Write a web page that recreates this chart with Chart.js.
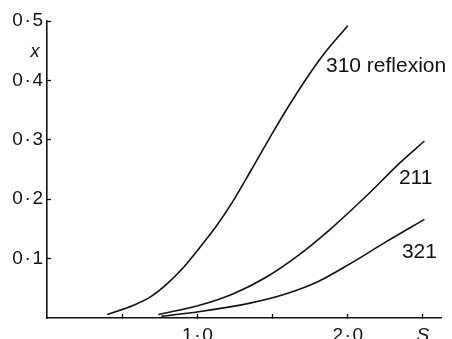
<!doctype html>
<html lang="en">
  <head>
    <meta charset="UTF-8" />
    <title>Reflexion curves</title>
    <script src="https://cdn.jsdelivr.net/npm/chart.js"></script>
    <style>
      html, body { margin: 0; padding: 0; background: #fff; }
      .chart-container { position: relative; width: 452px; height: 339px; }
    </style>
  </head>
  <body>
    <div class="chart-container">
      <canvas id="reflexionChart"></canvas>
    </div>

    <script>
      // Curve data (S along the bottom, x up the side)
      const s310 = [0.40, 0.58, 0.69, 0.80, 0.91, 1.02, 1.13, 1.24, 1.36, 1.51, 1.62, 1.73, 1.84, 2.00];
      const x310 = [0.006, 0.022, 0.036, 0.058, 0.086, 0.120, 0.156, 0.198, 0.250, 0.316, 0.362, 0.405, 0.444, 0.492];

      const s211 = [0.74, 1.02, 1.24, 1.46, 1.68, 1.90, 2.13, 2.35, 2.51];
      const x211 = [0.006, 0.022, 0.041, 0.069, 0.107, 0.153, 0.207, 0.262, 0.298];

      const s321 = [0.76, 1.02, 1.35, 1.57, 1.80, 2.02, 2.24, 2.51];
      const x321 = [0.003, 0.011, 0.025, 0.039, 0.061, 0.092, 0.126, 0.166];

      const sTicks = [0.5, 1.0, 1.5, 2.0, 2.5];
      const sTickLabels = ["", "1\u200a·\u200a0", "", "2\u200a·\u200a0", "S"];
      const xTicks = [0.1, 0.2, 0.3, 0.4, 0.5];
      const xTickLabels = ["0\u200a·\u200a1", "0\u200a·\u200a2", "0\u200a·\u200a3", "0\u200a·\u200a4", "0\u200a·\u200a5"];

      const curveNames = ["310 reflexion", "211", "321"];

      const FONT = "'Liberation Sans', Arial, Helvetica, sans-serif";

      function toPoints(xs, ys) {
        return xs.map((v, i) => ({ x: v, y: ys[i] }));
      }

      function curve(label, xs, ys) {
        return {
          label: label,
          data: toPoints(xs, ys),
          borderColor: "#111",
          borderWidth: 1.6,
          pointRadius: 0,
          fill: false,
          cubicInterpolationMode: "monotone",
        };
      }

      // Text labels beside each curve and the axis letter
      const curveLabels = {
        id: "curveLabels",
        afterDatasetsDraw(chart) {
          const { ctx, scales } = chart;
          const sx = scales.x;
          const sy = scales.y;
          ctx.save();
          ctx.fillStyle = "#111";
          ctx.textBaseline = "middle";
          ctx.textAlign = "left";
          ctx.font = "21px " + FONT;
          const spots = [
            [1.855, 0.4235],
            [2.34, 0.235],
            [2.36, 0.111],
          ];
          curveNames.forEach((name, i) => {
            ctx.fillText(name, sx.getPixelForValue(spots[i][0]), sy.getPixelForValue(spots[i][1]));
          });
          // italic x on the vertical axis
          ctx.font = "italic 18px " + FONT;
          ctx.textAlign = "center";
          ctx.fillText("x", chart.chartArea.left - 12, sy.getPixelForValue(0.447));
          ctx.restore();
        },
      };

      const ctx = document.getElementById("reflexionChart").getContext("2d");

      new Chart(ctx, {
        type: "line",
        data: {
          datasets: [
            curve(curveNames[0], s310, x310),
            curve(curveNames[1], s211, x211),
            curve(curveNames[2], s321, x321),
          ],
        },
        options: {
          responsive: true,
          maintainAspectRatio: false,
          animation: false,
          layout: { padding: { top: 21, right: 11, left: 0, bottom: 0 } },
          plugins: {
            legend: { display: false },
            tooltip: { enabled: false },
          },
          scales: {
            x: {
              type: "linear",
              min: 0,
              max: 2.62,
              afterBuildTicks: (axis) => {
                axis.ticks = sTicks.map((v) => ({ value: v }));
              },
              afterFit: (axis) => {
                axis.height = 21;
              },
              grid: {
                drawOnChartArea: false,
                drawTicks: true,
                tickLength: -4,
                tickWidth: 1.3,
                tickColor: "#111",
              },
              border: { display: true, color: "#111", width: 1.6 },
              ticks: {
                color: "#111",
                padding: 10,
                maxRotation: 0,
                autoSkip: false,
                font: (c) => ({
                  family: FONT,
                  size: 19,
                  style: c.tick && c.tick.value === 2.5 ? "italic" : "normal",
                }),
                callback: (value) => {
                  const i = sTicks.indexOf(value);
                  return i >= 0 ? sTickLabels[i] : "";
                },
              },
            },
            y: {
              type: "linear",
              min: 0,
              max: 0.5,
              afterBuildTicks: (axis) => {
                axis.ticks = xTicks.map((v) => ({ value: v }));
              },
              afterFit: (axis) => {
                axis.width = 47;
              },
              grid: {
                drawOnChartArea: false,
                drawTicks: true,
                tickLength: -4,
                tickWidth: 1.3,
                tickColor: "#111",
              },
              border: { display: true, color: "#111", width: 1.6 },
              ticks: {
                color: "#111",
                padding: 8,
                autoSkip: false,
                font: { family: FONT, size: 19 },
                callback: (value) => {
                  const i = xTicks.indexOf(value);
                  return i >= 0 ? xTickLabels[i] : "";
                },
              },
            },
          },
        },
        plugins: [curveLabels],
      });
    </script>
  </body>
</html>
